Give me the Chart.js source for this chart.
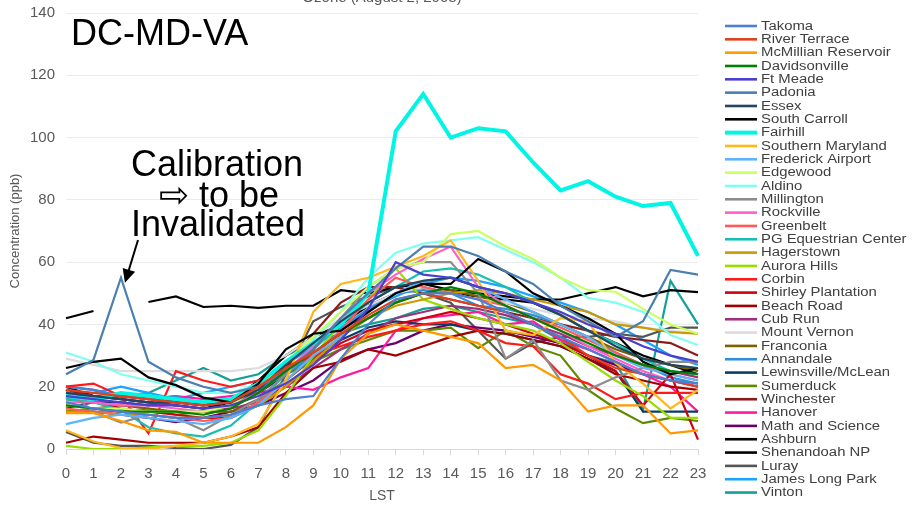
<!DOCTYPE html>
<html>
<head>
<meta charset="utf-8">
<script src="https://cdn.jsdelivr.net/npm/chart.js@4"></script>
<style>
  html, body { margin: 0; padding: 0; background: #fff; }
  #ozone { display: block; }
</style>
</head>
<body>
<canvas id="ozone" width="916" height="508"></canvas>
<script>
// Hourly ozone, August 2, 2008 (ppb), LST 0..23
const hours = ['0','1','2','3','4','5','6','7','8','9','10','11','12','13','14','15','16','17','18','19','20','21','22','23'];

const sites = ['Takoma','River Terrace','McMillian Reservoir','Davidsonville','Ft Meade','Padonia','Essex','South Carroll',
  'Fairhill','Southern Maryland','Frederick Airport','Edgewood','Aldino','Millington','Rockville','Greenbelt',
  'PG Equestrian Center','Hagerstown','Aurora Hills','Corbin','Shirley Plantation','Beach Road','Cub Run','Mount Vernon',
  'Franconia','Annandale','Lewinsville/McLean','Sumerduck','Winchester','Hanover','Math and Science','Ashburn',
  'Shenandoah NP','Luray','James Long Park','Vinton'];

const siteColors = ['#4a7fd4','#e0401c','#ff9900','#008000','#4b3fcf','#4a7fb0','#23465f','#000000',
  '#00f5e4','#ffb81c','#5cb4ff','#ccff66','#80fff0','#8c8c8c','#ff5fc8','#ff5a5a',
  '#17c0b0','#cc9900','#99dd00','#ff1a1a','#d00010','#a00000','#a0307a','#dcdcdc',
  '#7f6000','#2f8fdc','#0a3d66','#5f8a00','#8b1a1a','#ff1aa0','#6a006a','#000000',
  '#000000','#555555','#1aa3ff','#13a095'];

const takoma      = [15,13,12,11,10,10,11,14,16,17,29,40,48,50,50,48,44,40,36,32,28,24,22,21];
const riverTerr   = [19,18,17,16,15,14,15,20,26,31,37,43,48,50,48,46,44,40,36,30,26,24,22,20];
const mcmillian   = [11.5,11.5,9,6,5.5,2,2,2,7,14,29,37,40,38,36,34,26,27,22,12,14,14,5,6];
const davidson    = [14,13,12,12,12,11,13,18,25,31,37,42,47,50,52,50,46,42,38,34,30,27,25,24];
const ftMeade     = [17,16,15,14,14,13,14,17,21,27,35,45,60,56,55,52,50,47,44,40,37,33,30,28];
const padonia     = [24,28.6,55,28,23,20,18,20,25,32,42,50,58,65,65,62,57,53,46,41,36,41,57.5,56];
const essex       = [18,17,16,15,15,14,15,19,27,34,41,47,52,54,55,52,50,47,43,38,33,29,27,26];
const southCarr   = [26,28,29,23,20.5,16.5,15,21,32,37,38,44,50,53,53,61,57,50,46,42,37,28,24,26];
const fairhill    = [17,16,18,17,16,15,16,21,28,34,40,50,102,114,100,103,102,92,83,86,81,78,79,62];
const southMd     = [6,2.4,0.3,0,1,2,4,8,22,44,53,55,58.5,62,67,54,38,36.6,42,41,27.6,21,13,19];
const frederick   = [8,10,11,10,9,8,10,14,22,30,36,44,50,54,55,52,48,44,40,36,30,26,24,22];
const edgewood    = [14,13,13,12,12,12,14,20,28,36,44,52,58,60,69,70,65,61,55,51,50.5,45,40,37];
const aldino      = [31,28,24,22,20,18,18,21,28,35,44,55,63,66,67,68,64,60,55,48.5,47,44,36.6,33.4];
const millington  = [19,12,8.5,11,10,6,11,16,24,32,42,52,58,60,60,50,29,35,22,19,23,26,28,28];
const rockville   = [15,15,14,14,13,12,14,18,25,33,42,50,56,61,65,52,46,42,38,33,29,25,22,20];
const greenbelt   = [13,12,12,11,10,9,10,15,22,30,38,48,55,52,50,48,46,42,39,35,31,27,24,22];
const pgEquest    = [16,15,12.5,7,5,4,7.5,15,24,32,40,47,52,57,58,56,52,47,43,38,34,29,25,24];
const hagerstown  = [12,12,11,11,10,10,11,14,20,28,36,42,46,48,50,51,50,48,46,44,40,39,37.5,37];
const auroraHills = [1,0,0,0.5,1,1,2,6,17,30,40,48,58,48,45,42,40,38,34,28,22,17,10,10];
const corbin      = [20,21,17,5,25,22,20,22,26,30,33,36,38,40,41,38,34,33,24,21,16,18,18,18];
const shirley     = [16,15,13,12,11,10,10,14,20,28,34,38,40,42,44,42,40,37,34,30,25,14,24,3];
const beachRoad   = [2,4,3,2,2,2,4,7,18,26,28,32,30,33,36,38,37,35,33,29,24,22,20,19];
const cubRun      = [18,17,16,15,14,13,13,15,20,26,32,37,42,44,46,45,43,40,37,33,30,27,25,23];
const mtVernon    = [29,27,25,25,25,25,25,26,30,36,42,46,50,52,50,48,47,45,43,42,41,39,38,37];
const franconia   = [14,13,14,13,12,12,12,16,22,29,36,42,47,50,51,49,47,44,40,36,32,29,27,25];
const annandale   = [20,19,17,16,17,14,16,19,24,30,38,45,50,51,50,46,45,43,40,36,31,27,23,21];
const lewinsville = [13,15,15,14,16,15,15,18,24,30,35,39,41,40,40,38,37,35,33,29,25,12,12,12];
const sumerduck   = [12,13,12,13,11,12,14,18,24,28,32,35,38,38,39,32.4,38,33,30,19,13,8.3,10,9];
const winchester  = [19,17,17,16,15,14,15,18,26,37,47,52,52,50,48,46,44,42,40,38,36,35,34,30];
const hanover     = [20,19,17,16,17,16,17,18,20,19,23,26,38,42,43,44,40,41,35,32,28,24,20,12];
const mathSci     = [12,12,11,10,8.6,10,12,14,18,22,28.6,32,34,38,40,39,38,36,34,30,27,24,22,20];
const ashburn     = [20,17,16,15,14,13,15,22,30,36,40,46,50,52,50,49,48,47,43,38,34,30,27,24];
const shenandoah  = [42,44.3,null,47.2,49,45.6,46,45.3,46,46,51,50,52,53,51,50,49,48,48,50,52,49,51,50.4];
const luray       = [5.5,2,1,1,0.3,0,1.3,7,24,41,45.6,49,52,50,47,38,29,34,36,36,37,36,39,39];
const jamesLong   = [16,18,20,18,16,18,20,22,27,33,39,45,49,53,55,54,52,49,47,44,40,35,30,27];
const vinton      = [18,16,17,18,22,26,22,24,30,34,37,40,42,45,46,44,42,40,35,30,27.6,12.5,54,40];

const seriesValues = [takoma, riverTerr, mcmillian, davidson, ftMeade, padonia, essex, southCarr,
  fairhill, southMd, frederick, edgewood, aldino, millington, rockville, greenbelt,
  pgEquest, hagerstown, auroraHills, corbin, shirley, beachRoad, cubRun, mtVernon,
  franconia, annandale, lewinsville, sumerduck, winchester, hanover, mathSci, ashburn,
  shenandoah, luray, jamesLong, vinton];

const yTicks = [0, 20, 40, 60, 80, 100, 120, 140];

const datasets = sites.map(function(name, i) {
  return {
    label: name,
    data: seriesValues[i],
    borderColor: siteColors[i],
    backgroundColor: siteColors[i],
    borderWidth: name === 'Fairhill' ? 4 : 2.2,
    pointRadius: 0,
    tension: 0,
    spanGaps: false
  };
});

// legend down the right side, drawn by hand so the rows match the original spacing
const sideLegend = {
  id: 'sideLegend',
  afterDraw(chart) {
    const ctx = chart.ctx;
    ctx.save();
    chart.data.datasets.forEach(function(ds, i) {
      const y = 26 + i * 13.33;
      ctx.strokeStyle = ds.borderColor;
      ctx.lineWidth = ds.borderWidth === 4 ? 4 : 2.6;
      ctx.beginPath();
      ctx.moveTo(725, y);
      ctx.lineTo(757, y);
      ctx.stroke();
      ctx.save();
      ctx.translate(761, y);
      ctx.scale(1.24, 1);
      ctx.fillStyle = '#404040';
      ctx.font = '12px "Liberation Sans", Arial, sans-serif';
      ctx.textBaseline = 'middle';
      ctx.fillText(ds.label, 0, 0.5);
      ctx.restore();
    });
    ctx.restore();
  }
};

// title (clipped at top) and the text annotations
const notes = {
  id: 'notes',
  afterDraw(chart) {
    const ctx = chart.ctx;
    const area = chart.chartArea;
    const xs = chart.scales.x;
    const ys = chart.scales.y;
    ctx.save();
    ctx.fillStyle = '#595959';
    ctx.font = '15px "Liberation Sans", Arial, sans-serif';
    ctx.textAlign = 'center';
    ctx.textBaseline = 'alphabetic';
    ctx.fillText('Ozone (August 2, 2008)', (area.left + area.right) / 2, 2);

    ctx.fillStyle = '#000';
    ctx.font = '36px "Liberation Sans", Arial, sans-serif';
    ctx.textAlign = 'left';
    ctx.fillText('DC-MD-VA', 71, 45);

    ctx.textAlign = 'center';
    ctx.fillText('Calibration', 217, 176);
    ctx.fillText('\u21E8 to be', 219, 207);
    ctx.fillText('Invalidated', 218, 236);

    // arrow pointing at the Padonia spike
    const tipX = xs.getPixelForValue(2) + 4;
    const tipY = ys.getPixelForValue(padonia[2]) + 5;
    const fromX = 138, fromY = 240;
    const ang = Math.atan2(tipY - fromY, tipX - fromX);
    const head = 15;
    ctx.strokeStyle = '#000';
    ctx.lineWidth = 2;
    ctx.beginPath();
    ctx.moveTo(fromX, fromY);
    ctx.lineTo(tipX - Math.cos(ang) * head * 0.8, tipY - Math.sin(ang) * head * 0.8);
    ctx.stroke();
    ctx.beginPath();
    ctx.moveTo(tipX, tipY);
    ctx.lineTo(tipX - head * Math.cos(ang - 0.45), tipY - head * Math.sin(ang - 0.45));
    ctx.lineTo(tipX - head * Math.cos(ang + 0.45), tipY - head * Math.sin(ang + 0.45));
    ctx.closePath();
    ctx.fillStyle = '#000';
    ctx.fill();
    ctx.restore();
  }
};

const tickFont = { family: '"Liberation Sans", Arial, sans-serif', size: 15 };

new Chart(document.getElementById('ozone'), {
  type: 'line',
  data: { labels: hours, datasets: datasets },
  options: {
    responsive: false,
    animation: false,
    devicePixelRatio: 1,
    layout: { padding: { top: 13, right: 218, left: 0, bottom: 0 } },
    plugins: {
      legend: { display: false },
      tooltip: { enabled: false }
    },
    scales: {
      x: {
        offset: false,
        grid: { drawOnChartArea: false, tickLength: 6, color: '#d9d9d9' },
        border: { color: '#d9d9d9' },
        ticks: { font: tickFont, color: '#595959', maxRotation: 0, autoSkip: false, padding: 10 },
        title: { display: true, text: 'LST', color: '#595959',
          font: { family: '"Liberation Sans", Arial, sans-serif', size: 14 }, padding: { top: 4, bottom: 3 } },
        afterFit(scale) { scale.height = 59; }
      },
      y: {
        min: 0,
        max: 140,
        afterBuildTicks(scale) { scale.ticks = yTicks.map(function(v) { return { value: v }; }); },
        grid: { color: '#ebebeb', drawTicks: false },
        border: { display: false },
        ticks: { font: tickFont, color: '#595959', padding: 11 },
        title: { display: true, text: 'Concentration (ppb)', color: '#595959',
          font: { family: '"Liberation Sans", Arial, sans-serif', size: 13 }, padding: { top: 8, bottom: 0 } },
        afterFit(scale) {
          scale.width = 66;
          scale.paddingTop = 0;
          scale.paddingBottom = 0;
        }
      }
    }
  },
  plugins: [sideLegend, notes]
});
</script>
</body>
</html>
